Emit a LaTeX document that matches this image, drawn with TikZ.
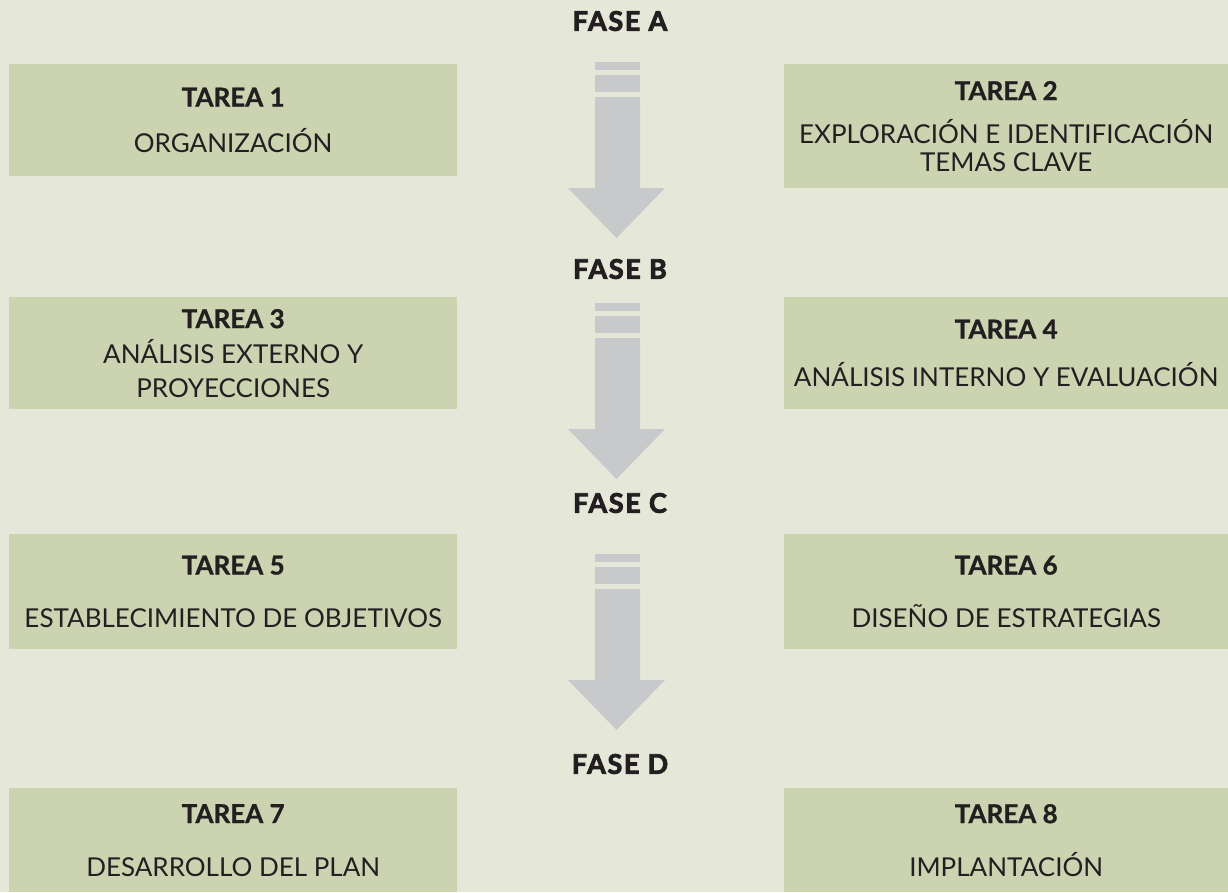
\documentclass[tikz,border=0pt]{standalone}
\usepackage{fontspec}
\setmainfont{Lato}[BoldFeatures={FakeBold=1}]
\newfontfamily\fasefont{Lato}[BoldFeatures={FakeBold=3},LetterSpace=6]
\definecolor{fondo}{HTML}{E5E8D9}
\definecolor{cajaverde}{HTML}{CCD3B1}
\definecolor{flechagris}{HTML}{C8C9CB}
\definecolor{texto}{HTML}{231F20}

\begin{document}
\begin{tikzpicture}[x=1pt,y=-1pt,text=texto,font=\fontsize{26}{31}\selectfont]
    \tikzstyle{tarea}=[fill=cajaverde,anchor=north west,inner sep=0pt,align=center,minimum height=112pt]
    \tikzstyle{fase}=[font=\fasefont\bfseries\fontsize{27}{30}\selectfont]

    \fill[fondo] (0,0) rectangle (1228,892);
    \useasboundingbox (0,0) rectangle (1228,892);

    % flechas entre fases
    \foreach \y in {62,303,554} {
    \fill[flechagris] (595,\y) rectangle (640,\y+8);
    \fill[flechagris] (595,\y+13) rectangle (640,\y+30);
    \fill[flechagris] (595,\y+35) -- (640,\y+35) -- (640,\y+126) -- (665,\y+126)
      -- (616.5,\y+176) -- (568,\y+126) -- (595,\y+126) -- cycle;
    }

    \node[fase] (F-A) at (620,21) {FASE A};
    \node[fase] (F-B) at (620,269) {FASE B};
    \node[fase] (F-C) at (620,503) {FASE C};
    \node[fase] (F-D) at (620,764) {FASE D};

    \node[tarea,minimum width=448pt] (T-1) at (9,64)
      {\textbf{TAREA 1}\\[15pt]ORGANIZACIÓN};
    \node[tarea,minimum width=444pt,minimum height=124pt] (T-2) at (784,64)
      {\textbf{TAREA 2}\\[12pt]EXPLORACIÓN E IDENTIFICACIÓN\\[-3pt]TEMAS CLAVE};
    \node[tarea,minimum width=448pt] (T-3) at (9,297)
      {\textbf{TAREA 3}\\[4pt]ANÁLISIS EXTERNO Y\\[3pt]PROYECCIONES};
    \node[tarea,minimum width=444pt] (T-4) at (784,297)
      {\textbf{TAREA 4}\\[17pt]ANÁLISIS INTERNO Y EVALUACIÓN};
    \node[tarea,minimum width=448pt,minimum height=115pt] (T-5) at (9,534)
      {\textbf{TAREA 5}\\[22pt]ESTABLECIMIENTO DE OBJETIVOS};
    \node[tarea,minimum width=444pt,minimum height=115pt] (T-6) at (784,534)
      {\textbf{TAREA 6}\\[22pt]DISEÑO DE ESTRATEGIAS};
    \node[tarea,minimum width=448pt,minimum height=104pt] (T-7) at (9,788)
      {\textbf{TAREA 7}\\[22pt]DESARROLLO DEL PLAN};
    \node[tarea,minimum width=444pt,minimum height=104pt] (T-8) at (784,788)
      {\textbf{TAREA 8}\\[22pt]IMPLANTACIÓN};
\end{tikzpicture}
\end{document}
